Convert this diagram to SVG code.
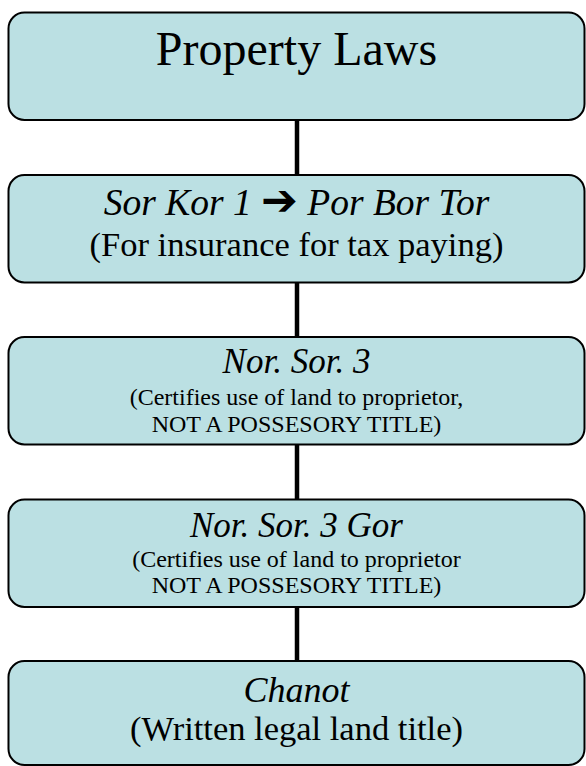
<svg xmlns="http://www.w3.org/2000/svg" width="586" height="766" viewBox="0 0 586 766">
<style>
.box{fill:#bbe0e3;stroke:#000;stroke-width:2}
.t{font-family:"Liberation Serif","Times New Roman",serif;text-anchor:middle;fill:#000}
.i{font-style:italic}
.arr{font-family:"DejaVu Sans",sans-serif;font-style:normal;font-weight:bold}
.conn{stroke:#000;stroke-width:4.5;fill:none}
</style>
<rect width="586" height="766" fill="#fff"/>
<g id="connectors">
<line class="conn" x1="297" y1="120" x2="297" y2="175"/>
<line class="conn" x1="297" y1="282" x2="297" y2="337"/>
<line class="conn" x1="297" y1="444" x2="297" y2="499"/>
<line class="conn" x1="297" y1="606" x2="297" y2="661"/>
</g>
<g id="node1">
<rect class="box" x="8.5" y="12.5" width="576" height="107.5" rx="16"/>
<text class="t" x="296.5" y="65" font-size="48">Property Laws</text>
</g>
<g id="node2">
<rect class="box" x="8.5" y="175" width="576" height="107.5" rx="16"/>
<text class="t i" x="296.5" y="215" font-size="37.5">Sor Kor 1 <tspan class="arr" font-size="44">➔</tspan> Por Bor Tor</text>
<text class="t" x="296.5" y="256" font-size="34.5">(For insurance for tax paying)</text>
</g>
<g id="node3">
<rect class="box" x="8.5" y="337" width="576" height="107.5" rx="16"/>
<text class="t i" x="296.5" y="373" font-size="35">Nor. Sor. 3</text>
<text class="t" x="296.5" y="405" font-size="24">(Certifies use of land to proprietor,</text>
<text class="t" x="296.5" y="431.5" font-size="24">NOT A POSSESORY TITLE)</text>
</g>
<g id="node4">
<rect class="box" x="8.5" y="499.5" width="576" height="107.5" rx="16"/>
<text class="t i" x="296.5" y="536.5" font-size="35">Nor. Sor. 3 Gor</text>
<text class="t" x="296.5" y="566.5" font-size="24">(Certifies use of land to proprietor</text>
<text class="t" x="296.5" y="593" font-size="24">NOT A POSSESORY TITLE)</text>
</g>
<g id="node5">
<rect class="box" x="8.5" y="661" width="576" height="104" rx="16"/>
<text class="t i" x="296.5" y="702" font-size="36">Chanot</text>
<text class="t" x="296.5" y="740" font-size="34.5">(Written legal land title)</text>
</g>
</svg>
